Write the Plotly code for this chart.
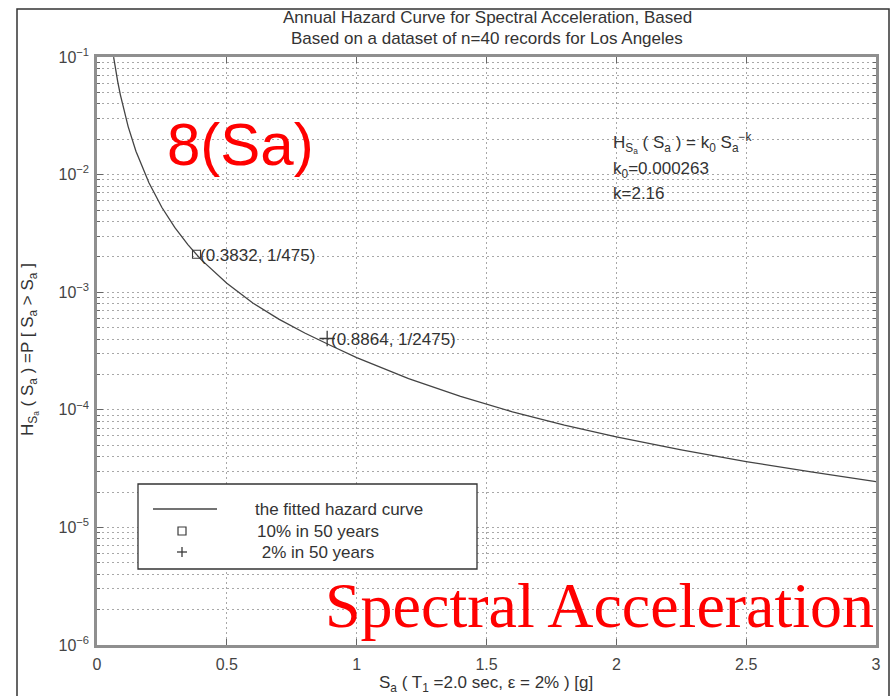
import plotly.graph_objects as go

# Fitted hazard curve H(Sa) = k0 * Sa^-k, sampled along Sa
sa_curve = [0.064, 0.07, 0.08, 0.09, 0.1, 0.12, 0.15, 0.2, 0.25, 0.3, 0.35, 0.4,
            0.5, 0.6, 0.7, 0.8, 0.9, 1.0, 1.2, 1.4, 1.6, 1.8, 2.0, 2.25, 2.5,
            2.75, 3.0]
h_curve = [0.0997, 0.0821, 0.0615, 0.0477, 0.0380, 0.0256, 0.0158, 0.00851,
           0.00525, 0.00354, 0.00254, 0.00190, 0.00119, 0.000810, 0.000590,
           0.000450, 0.000352, 0.000278, 0.000184, 0.000130, 9.60e-5, 7.40e-5,
           5.89e-5, 4.56e-5, 3.63e-5, 2.96e-5, 2.45e-5]

# Design levels: 10% in 50 years and 2% in 50 years
sa_10 = [0.3832]
h_10 = [1 / 475]
sa_2 = [0.8864]
h_2 = [1 / 2475]

x_ticks = [0, 0.5, 1, 1.5, 2, 2.5, 3]
x_tick_text = ["0", "0.5", "1", "1.5", "2", "2.5", "3"]
y_decades = [-6, -5, -4, -3, -2, -1]

# Plot area in pixels
L, R, T, B = 97, 876, 57, 645
W, H = 892, 696


def px(x):
    return (x - L) / (R - L)


def py(y):
    return (B - y) / (B - T)


INK = "#3a3a3a"
GRID = "#a8a8a8"
FONT = "Liberation Sans, Arial, sans-serif"
DOTS = "2px,3px"

fig = go.Figure()
fig.add_trace(go.Scatter(x=sa_curve, y=h_curve, mode="lines",
                         line=dict(color="#444444", width=1.3),
                         hoverinfo="skip", showlegend=False))
fig.add_trace(go.Scatter(x=sa_10, y=h_10, mode="markers",
                         marker=dict(symbol="square-open", size=8,
                                     color=INK, line=dict(width=1.1)),
                         showlegend=False))
fig.add_trace(go.Scatter(x=sa_2, y=h_2, mode="markers",
                         marker=dict(symbol="cross-thin-open", size=11,
                                     color=INK, line=dict(width=1.3, color=INK)),
                         showlegend=False))

minor_vals = []
for d in y_decades[:-1]:
    for m in range(2, 10):
        minor_vals.append(m * 10 ** d)

tick_font = dict(family=FONT, size=16, color="#444")
fig.update_xaxes(range=[0, 3], tickvals=x_ticks, ticktext=x_tick_text,
                 ticks="inside", ticklen=6, tickcolor="#666", mirror="ticks",
                 showline=True, linecolor="#8f8f8f", linewidth=2.5,
                 showgrid=True, gridcolor=GRID, griddash=DOTS, gridwidth=1,
                 zeroline=False, tickfont=tick_font, ticklabelstandoff=3)
fig.update_yaxes(type="log", range=[-6, -1],
                 tickvals=[10 ** d for d in y_decades],
                 ticktext=["10<sup>\u2212%d</sup>" % (-d) for d in y_decades],
                 ticks="inside", ticklen=6, tickcolor="#666", mirror="ticks",
                 showline=True, linecolor="#8f8f8f", linewidth=2.5,
                 showgrid=True, gridcolor=GRID, griddash=DOTS, gridwidth=1,
                 zeroline=False, tickfont=tick_font, ticklabelstandoff=2,
                 minor=dict(tickvals=minor_vals, ticks="inside", ticklen=3,
                            tickcolor="#666", showgrid=True, gridcolor=GRID,
                            griddash=DOTS, gridwidth=1))

shapes = []
# outer figure frame
shapes.append(dict(type="rect", xref="paper", yref="paper",
                   x0=px(17), x1=px(889), y0=py(702), y1=py(9),
                   line=dict(color="#333", width=1.5), layer="below"))
# legend box
shapes.append(dict(type="rect", xref="paper", yref="paper",
                   x0=px(138), x1=px(477), y0=py(569), y1=py(484),
                   line=dict(color="#333", width=1.3), fillcolor="white",
                   layer="above"))
# legend glyphs: line, square, plus
shapes.append(dict(type="line", xref="paper", yref="paper",
                   x0=px(153), x1=px(217), y0=py(509), y1=py(509),
                   line=dict(color="#444", width=1.4)))
shapes.append(dict(type="rect", xref="paper", yref="paper",
                   x0=px(178), x1=px(186), y0=py(535), y1=py(527),
                   line=dict(color=INK, width=1.2)))
shapes.append(dict(type="line", xref="paper", yref="paper",
                   x0=px(177), x1=px(187), y0=py(552), y1=py(552),
                   line=dict(color=INK, width=1.3)))
shapes.append(dict(type="line", xref="paper", yref="paper",
                   x0=px(182), x1=px(182), y0=py(557), y1=py(547),
                   line=dict(color=INK, width=1.3)))

ann = []


def text(x, y, s, size=16, color="#333", anchor="left", family=FONT, **kw):
    ann.append(dict(x=px(x), y=py(y), xref="paper", yref="paper", text=s,
                    showarrow=False, xanchor=anchor, yanchor="middle",
                    font=dict(family=family, size=size, color=color), **kw))


text(487, 18, "Annual Hazard Curve for Spectral Acceleration, Based", 17, anchor="center")
text(487, 38, "Based on a dataset of n=40 records for Los Angeles", 17, anchor="center")

text(486, 684, "S<sub>a</sub> ( T<sub>1</sub> =2.0 sec, \u03b5 = 2% ) [g]", 17, anchor="center")
text(29, 350, "H<sub>S<sub>a</sub></sub> ( S<sub>a</sub> ) =P [ S<sub>a</sub> > S<sub>a</sub> ]",
     17, anchor="center", textangle=-90)

text(198, 255, "(0.3832, 1/475)", 17)
text(329, 339, "(0.8864, 1/2475)", 17)

text(611, 143, "H<sub>S<sub>a</sub></sub> ( S<sub>a</sub> ) = k<sub>0</sub> S<sub>a</sub><sup>\u2212k</sup>", 17)
text(611, 170, "k<sub>0</sub>=0.000263", 17)
text(611, 193, "k=2.16", 17)

# legend entries
text(253, 509, "the fitted hazard curve", 17)
text(255, 531, "10% in 50 years", 17)
text(255, 552, " 2% in 50 years", 17)

# red overlay labels
text(240, 144, "8(Sa)", 60, color="#ff0000", anchor="center",
     family="Liberation Sans, Arial, sans-serif")
text(599, 605, "Spectral Acceleration", 64, color="#ff0000", anchor="center",
     family="Liberation Serif, Times New Roman, serif")

fig.update_layout(width=W, height=H, margin=dict(l=L, r=W - R, t=T, b=H - B),
                  paper_bgcolor="white", plot_bgcolor="white",
                  shapes=shapes, annotations=ann, showlegend=False,
                  font=dict(family=FONT, color="#333"))

fig.write_html("out.html", config={"displayModeBar": False})
